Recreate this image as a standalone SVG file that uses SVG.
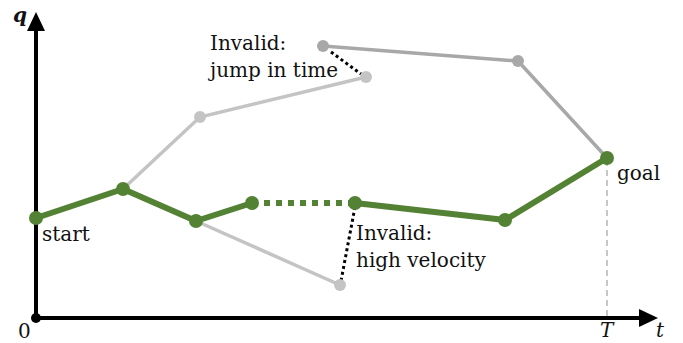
<svg xmlns="http://www.w3.org/2000/svg" width="683" height="343" viewBox="0 0 683 343">
<style>
.green{stroke:#548235;stroke-width:6;fill:none;stroke-linejoin:round}
.lg{stroke:#c4c4c4;stroke-width:3.5;fill:none}
.dg{stroke:#a8a8a8;stroke-width:3.5;fill:none}
.dot{stroke:#000;stroke-width:3;stroke-dasharray:3 3;fill:none}
</style>
<rect width="683" height="343" fill="#fff"/>
<g id="axes">
<line x1="36" y1="318" x2="36" y2="28" stroke="#000" stroke-width="4"/>
<polygon points="36,12 27,31 45,31" fill="#000"/>
<line x1="36" y1="318" x2="642" y2="318" stroke="#000" stroke-width="4"/>
<polygon points="658,318 639,309 639,327" fill="#000"/>
<circle cx="36" cy="318" r="5" fill="#000"/>
<line x1="607" y1="160" x2="607" y2="318" stroke="#aaa" stroke-width="1.3" stroke-dasharray="6 4"/>
<text x="13" y="22" font-family="DejaVu Serif" font-size="20" fill="#111" font-style="italic" font-weight="bold">q</text>
<text x="656" y="337" font-family="DejaVu Serif" font-size="20" fill="#111" font-style="italic">t</text>
<text x="600" y="337" font-family="DejaVu Serif" font-size="20" fill="#111" font-style="italic">T</text>
<text x="18" y="338" font-family="DejaVu Serif" font-size="20" fill="#111">0</text>
</g>
<g id="connectors">
<polyline class="lg" points="123,189 200,117 366,77"/>
<polyline class="lg" points="196,221 340,285"/>
<polyline class="dg" points="323,46 518,61 607,158"/>
<line class="dot" x1="331" y1="52" x2="361" y2="74"/>
<line class="dot" x1="355" y1="207" x2="341" y2="281"/>
<polyline class="green" points="36,218 123,189 196,221 252,203"/>
<line class="green" x1="252" y1="203" x2="355" y2="203" stroke-dasharray="6 6"/>
<polyline class="green" points="355,203 505,220 607,158"/>
</g>
<g id="gray-nodes" fill="#c4c4c4">
<circle cx="200" cy="117" r="6"/>
<circle cx="366" cy="77" r="6"/>
<circle cx="340" cy="285" r="6"/>
<circle cx="323" cy="46" r="6" fill="#a8a8a8"/>
<circle cx="518" cy="61" r="6" fill="#a8a8a8"/>
</g>
<g id="green-nodes" fill="#548235">
<circle cx="36" cy="218" r="7"/>
<circle cx="123" cy="189" r="7"/>
<circle cx="196" cy="221" r="7"/>
<circle cx="252" cy="203" r="7"/>
<circle cx="355" cy="203" r="7"/>
<circle cx="505" cy="220" r="7"/>
<circle cx="607" cy="158" r="7"/>
</g>
<g id="labels">
<text x="42" y="241" font-family="DejaVu Serif" font-size="20" fill="#111">start</text>
<text x="617" y="180" font-family="DejaVu Serif" font-size="20" fill="#111">goal</text>
<text x="210" y="50" font-family="DejaVu Serif" font-size="20" fill="#111">Invalid:</text>
<text x="210" y="77" font-family="DejaVu Serif" font-size="20" fill="#111">jump in time</text>
<text x="356" y="240" font-family="DejaVu Serif" font-size="20" fill="#111">Invalid:</text>
<text x="356" y="267" font-family="DejaVu Serif" font-size="20" fill="#111">high velocity</text>
</g>
</svg>
